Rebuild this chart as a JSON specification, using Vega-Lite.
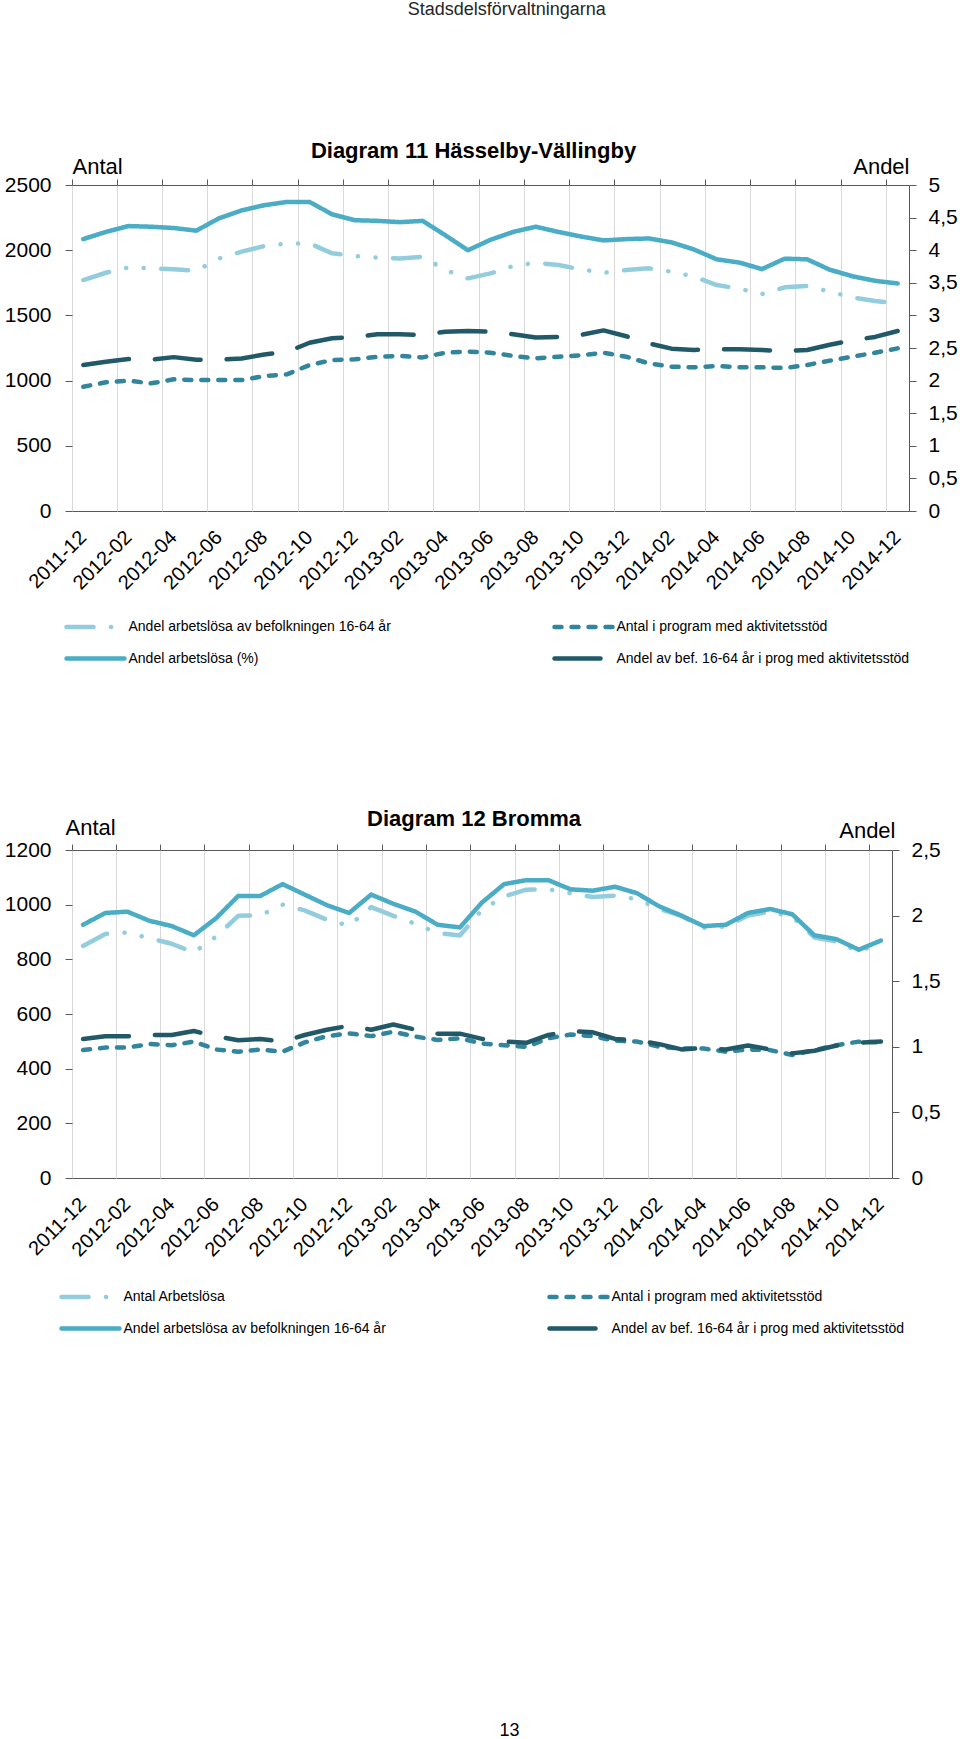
{
  "$schema": "https://vega.github.io/schema/vega-lite/v6.json",
  "padding": {"left": 3, "top": 0, "right": 0, "bottom": 0},
  "title": {
    "text": "Stadsdelsförvaltningarna",
    "fontSize": 18,
    "fontWeight": "normal",
    "color": "#262626",
    "anchor": "middle",
    "dx": 26,
    "offset": 121
  },
  "config": {
    "font": "Liberation Sans",
    "view": {"stroke": "#595959", "strokeWidth": 1},
    "axis": {
      "labelFontSize": 21,
      "labelColor": "#000000",
      "tickColor": "#595959",
      "domainColor": "#595959",
      "titleFontSize": 22,
      "titleFontWeight": "normal",
      "titleColor": "#000000"
    },
    "legend": {
      "orient": "none",
      "direction": "horizontal",
      "columns": 2,
      "columnPadding": 154,
      "rowPadding": 5.5,
      "symbolType": "M-2,0H2",
      "symbolSize": 841,
      "symbolOffset": 14.5,
      "labelFontSize": 14,
      "labelOffset": 16,
      "labelColor": "#000000",
      "labelLimit": 500,
      "title": null
    },
    "title": {"fontSize": 22, "fontWeight": "bold", "color": "#000000", "anchor": "middle"}
  },
  "vconcat": [
    {
      "width": 837,
      "height": 326,
      "title": {"text": "Diagram 11 Hässelby-Vällingby", "dx": -17, "offset": -8},
      "data": {
        "values": [
          {"m": "2011-12", "a": 1771, "b": 953, "c": 4.17, "d": 2.24},
          {"m": "2012-01", "a": 1827, "b": 987, "c": 4.28, "d": 2.29},
          {"m": "2012-02", "a": 1868, "b": 999, "c": 4.37, "d": 2.33},
          {"m": "2012-03", "a": 1861, "b": 979, "c": 4.36, "d": 2.32},
          {"m": "2012-04", "a": 1853, "b": 1010, "c": 4.34, "d": 2.36},
          {"m": "2012-05", "a": 1843, "b": 1004, "c": 4.30, "d": 2.32},
          {"m": "2012-06", "a": 1937, "b": 1004, "c": 4.49, "d": 2.32},
          {"m": "2012-07", "a": 1989, "b": 1004, "c": 4.61, "d": 2.34},
          {"m": "2012-08", "a": 2032, "b": 1035, "c": 4.69, "d": 2.40},
          {"m": "2012-09", "a": 2052, "b": 1048, "c": 4.74, "d": 2.44},
          {"m": "2012-10", "a": 2052, "b": 1119, "c": 4.74, "d": 2.58},
          {"m": "2012-11", "a": 1976, "b": 1158, "c": 4.55, "d": 2.65},
          {"m": "2012-12", "a": 1955, "b": 1163, "c": 4.46, "d": 2.67},
          {"m": "2013-01", "a": 1943, "b": 1183, "c": 4.45, "d": 2.71},
          {"m": "2013-02", "a": 1937, "b": 1189, "c": 4.43, "d": 2.71},
          {"m": "2013-03", "a": 1950, "b": 1178, "c": 4.45, "d": 2.70},
          {"m": "2013-04", "a": 1848, "b": 1214, "c": 4.23, "d": 2.75},
          {"m": "2013-05", "a": 1784, "b": 1222, "c": 4.00, "d": 2.76},
          {"m": "2013-06", "a": 1822, "b": 1214, "c": 4.16, "d": 2.75},
          {"m": "2013-07", "a": 1879, "b": 1189, "c": 4.28, "d": 2.71},
          {"m": "2013-08", "a": 1904, "b": 1171, "c": 4.36, "d": 2.66},
          {"m": "2013-09", "a": 1886, "b": 1183, "c": 4.28, "d": 2.67},
          {"m": "2013-10", "a": 1853, "b": 1194, "c": 4.21, "d": 2.70},
          {"m": "2013-11", "a": 1827, "b": 1214, "c": 4.15, "d": 2.77},
          {"m": "2013-12", "a": 1848, "b": 1183, "c": 4.17, "d": 2.68},
          {"m": "2014-01", "a": 1861, "b": 1132, "c": 4.18, "d": 2.57},
          {"m": "2014-02", "a": 1835, "b": 1107, "c": 4.12, "d": 2.49},
          {"m": "2014-03", "a": 1797, "b": 1102, "c": 4.01, "d": 2.47},
          {"m": "2014-04", "a": 1733, "b": 1112, "c": 3.86, "d": 2.48},
          {"m": "2014-05", "a": 1705, "b": 1102, "c": 3.81, "d": 2.48},
          {"m": "2014-06", "a": 1664, "b": 1102, "c": 3.71, "d": 2.47},
          {"m": "2014-07", "a": 1715, "b": 1097, "c": 3.87, "d": 2.45},
          {"m": "2014-08", "a": 1725, "b": 1120, "c": 3.86, "d": 2.47},
          {"m": "2014-09", "a": 1682, "b": 1153, "c": 3.70, "d": 2.55},
          {"m": "2014-10", "a": 1638, "b": 1183, "c": 3.60, "d": 2.62},
          {"m": "2014-11", "a": 1610, "b": 1214, "c": 3.53, "d": 2.67},
          {"m": "2014-12", "a": 1593, "b": 1247, "c": 3.49, "d": 2.76}
        ]
      },
      "layer": [
        {
          "transform": [{"fold": ["a", "b"], "as": ["k", "v"]}],
          "mark": {"type": "line", "strokeCap": "round", "strokeJoin": "round"},
          "encoding": {
            "x": {
              "field": "m",
              "type": "ordinal",
              "scale": {"type": "band", "paddingInner": 0, "paddingOuter": 0},
              "axis": {
                "values": ["2011-12", "2012-02", "2012-04", "2012-06", "2012-08", "2012-10", "2012-12", "2013-02", "2013-04", "2013-06", "2013-08", "2013-10", "2013-12", "2014-02", "2014-04", "2014-06", "2014-08", "2014-10", "2014-12"],
                "bandPosition": 0.5,
                "labelAngle": -45,
                "labelAlign": "right",
                "labelBaseline": "middle",
                "labelFontSize": 20,
                "labelPadding": 23,
                "labelDx": -5,
                "labelOverlap": false,
                "labelBound": false,
                "ticks": false,
                "grid": false,
                "domain": false,
                "title": null
              }
            },
            "y": {
              "field": "v",
              "type": "quantitative",
              "scale": {"domain": [0, 2500]},
              "axis": {
                "values": [0, 500, 1000, 1500, 2000, 2500],
                "format": "d",
                "grid": false,
                "domain": false,
                "tickSize": 7,
                "labelPadding": 14,
                "title": "Antal",
                "titleAngle": 0,
                "titleAlign": "left",
                "titleBaseline": "middle",
                "titleX": 0,
                "titleY": -19
              }
            },
            "color": {
              "field": "k",
              "type": "nominal",
              "scale": {"domain": ["a", "b", "c", "d"], "range": ["#93cddd", "#31859c", "#4bacc6", "#215968"]},
              "legend": {
                "legendX": -8,
                "legendY": 425,
                "encode": {"symbols": {"update": {"strokeCap": {"value": "round"}, "strokeDash": {"signal": "datum.value == 'a' ? [27, 17.5, 0.1, 17.5] : datum.value == 'b' ? [7, 10] : datum.value == 'c' ? [1, 0] : [27, 20]"}}}},
                "labelExpr": "datum.label == 'a' ? 'Andel arbetslösa av befolkningen 16-64 år' : datum.label == 'b' ? 'Antal i program med aktivitetsstöd' : datum.label == 'c' ? 'Andel arbetslösa (%)' : 'Andel av bef. 16-64 år i prog med aktivitetsstöd'"
              }
            },
            "strokeDash": {
              "field": "k",
              "type": "nominal",
              "scale": {"domain": ["a", "b", "c", "d"], "range": [[27, 17.5, 0.1, 17.5, 0.1, 17.5], [7, 10], [1, 0], [46, 26]]}
            },
            "strokeWidth": {
              "field": "k",
              "type": "nominal",
              "scale": {"domain": ["a", "b", "c", "d"], "range": [4.5, 4.5, 6, 6]}
            }
          }
        },
        {
          "transform": [{"fold": ["c", "d"], "as": ["k", "v"]}],
          "mark": {"type": "line", "strokeCap": "round", "strokeJoin": "round"},
          "encoding": {
            "x": {
              "field": "m",
              "type": "ordinal",
              "axis": {
                "values": ["2011-12", "2012-02", "2012-04", "2012-06", "2012-08", "2012-10", "2012-12", "2013-02", "2013-04", "2013-06", "2013-08", "2013-10", "2013-12", "2014-02", "2014-04", "2014-06", "2014-08", "2014-10", "2014-12"],
                "bandPosition": 0,
                "labels": false,
                "ticks": true,
                "tickSize": 6,
                "grid": true,
                "gridColor": "#d9d9d9",
                "domain": false,
                "title": null
              }
            },
            "y": {
              "field": "v",
              "type": "quantitative",
              "scale": {"domain": [0, 5]},
              "axis": {
                "orient": "right",
                "values": [0, 0.5, 1, 1.5, 2, 2.5, 3, 3.5, 4, 4.5, 5],
                "labelExpr": "replace(datum.value + '', '.', ',')",
                "grid": false,
                "domain": false,
                "tickSize": 7,
                "labelPadding": 12,
                "title": "Andel",
                "titleAngle": 0,
                "titleAlign": "right",
                "titleBaseline": "middle",
                "titleX": 0,
                "titleY": -19
              }
            },
            "color": {"field": "k", "type": "nominal"},
            "strokeDash": {"field": "k", "type": "nominal"},
            "strokeWidth": {"field": "k", "type": "nominal"}
          }
        }
      ],
      "resolve": {"scale": {"y": "independent"}, "axis": {"x": "independent"}}
    },
    {
      "width": 820,
      "height": 328,
      "title": {"text": "Diagram 12 Bromma", "dx": -8, "offset": -15},
      "data": {
        "values": [
          {"m": "2011-12", "a": 849, "b": 468, "c": 1.93, "d": 1.06},
          {"m": "2012-01", "a": 893, "b": 477, "c": 2.02, "d": 1.08},
          {"m": "2012-02", "a": 898, "b": 477, "c": 2.03, "d": 1.08},
          {"m": "2012-03", "a": 877, "b": 490, "c": 1.96, "d": 1.09},
          {"m": "2012-04", "a": 857, "b": 486, "c": 1.92, "d": 1.09},
          {"m": "2012-05", "a": 825, "b": 499, "c": 1.85, "d": 1.12},
          {"m": "2012-06", "a": 883, "b": 470, "c": 1.98, "d": 1.08},
          {"m": "2012-07", "a": 959, "b": 462, "c": 2.15, "d": 1.05},
          {"m": "2012-08", "a": 961, "b": 470, "c": 2.15, "d": 1.06},
          {"m": "2012-09", "a": 1000, "b": 462, "c": 2.24, "d": 1.04},
          {"m": "2012-10", "a": 979, "b": 496, "c": 2.16, "d": 1.09},
          {"m": "2012-11", "a": 945, "b": 519, "c": 2.08, "d": 1.13},
          {"m": "2012-12", "a": 923, "b": 529, "c": 2.02, "d": 1.16},
          {"m": "2013-01", "a": 991, "b": 519, "c": 2.16, "d": 1.13},
          {"m": "2013-02", "a": 959, "b": 535, "c": 2.09, "d": 1.17},
          {"m": "2013-03", "a": 930, "b": 517, "c": 2.03, "d": 1.13},
          {"m": "2013-04", "a": 896, "b": 505, "c": 1.93, "d": 1.10},
          {"m": "2013-05", "a": 887, "b": 511, "c": 1.91, "d": 1.10},
          {"m": "2013-06", "a": 981, "b": 492, "c": 2.10, "d": 1.06},
          {"m": "2013-07", "a": 1030, "b": 486, "c": 2.24, "d": 1.04},
          {"m": "2013-08", "a": 1055, "b": 480, "c": 2.27, "d": 1.03},
          {"m": "2013-09", "a": 1056, "b": 511, "c": 2.27, "d": 1.09},
          {"m": "2013-10", "a": 1042, "b": 525, "c": 2.20, "d": 1.12},
          {"m": "2013-11", "a": 1028, "b": 519, "c": 2.19, "d": 1.11},
          {"m": "2013-12", "a": 1033, "b": 502, "c": 2.22, "d": 1.06},
          {"m": "2014-01", "a": 1020, "b": 499, "c": 2.17, "d": 1.05},
          {"m": "2014-02", "a": 984, "b": 480, "c": 2.07, "d": 1.02},
          {"m": "2014-03", "a": 959, "b": 474, "c": 2.00, "d": 0.98},
          {"m": "2014-04", "a": 915, "b": 474, "c": 1.92, "d": 0.99},
          {"m": "2014-05", "a": 920, "b": 462, "c": 1.93, "d": 0.98},
          {"m": "2014-06", "a": 960, "b": 470, "c": 2.02, "d": 1.01},
          {"m": "2014-07", "a": 975, "b": 468, "c": 2.05, "d": 0.98},
          {"m": "2014-08", "a": 955, "b": 450, "c": 2.01, "d": 0.95},
          {"m": "2014-09", "a": 880, "b": 468, "c": 1.85, "d": 0.97},
          {"m": "2014-10", "a": 865, "b": 486, "c": 1.82, "d": 1.01},
          {"m": "2014-11", "a": 828, "b": 499, "c": 1.74, "d": 1.03},
          {"m": "2014-12", "a": 862, "b": 496, "c": 1.81, "d": 1.04}
        ]
      },
      "layer": [
        {
          "transform": [{"fold": ["a", "b"], "as": ["k", "v"]}],
          "mark": {"type": "line", "strokeCap": "round", "strokeJoin": "round"},
          "encoding": {
            "x": {
              "field": "m",
              "type": "ordinal",
              "scale": {"type": "band", "paddingInner": 0, "paddingOuter": 0},
              "axis": {
                "values": ["2011-12", "2012-02", "2012-04", "2012-06", "2012-08", "2012-10", "2012-12", "2013-02", "2013-04", "2013-06", "2013-08", "2013-10", "2013-12", "2014-02", "2014-04", "2014-06", "2014-08", "2014-10", "2014-12"],
                "bandPosition": 0.5,
                "labelAngle": -45,
                "labelAlign": "right",
                "labelBaseline": "middle",
                "labelFontSize": 20,
                "labelPadding": 23,
                "labelDx": -5,
                "labelOverlap": false,
                "labelBound": false,
                "ticks": false,
                "grid": false,
                "domain": false,
                "title": "13",
                "titleFontSize": 18,
                "titleX": 437,
                "titleY": 552,
                "titleBaseline": "middle"
              }
            },
            "y": {
              "field": "v",
              "type": "quantitative",
              "scale": {"domain": [0, 1200]},
              "axis": {
                "values": [0, 200, 400, 600, 800, 1000, 1200],
                "format": "d",
                "grid": false,
                "domain": false,
                "tickSize": 7,
                "labelPadding": 14,
                "title": "Antal",
                "titleAngle": 0,
                "titleAlign": "left",
                "titleBaseline": "middle",
                "titleX": -7,
                "titleY": -23
              }
            },
            "color": {
              "field": "k",
              "type": "nominal",
              "scale": {"domain": ["a", "b", "c", "d"], "range": ["#93cddd", "#31859c", "#4bacc6", "#215968"]},
              "legend": {
                "legendX": -13,
                "legendY": 430,
                "encode": {"symbols": {"update": {"strokeCap": {"value": "round"}, "strokeDash": {"signal": "datum.value == 'a' ? [27, 17.5, 0.1, 17.5] : datum.value == 'b' ? [7, 10] : datum.value == 'c' ? [1, 0] : [27, 20]"}}}},
                "labelExpr": "datum.label == 'a' ? 'Antal Arbetslösa' : datum.label == 'b' ? 'Antal i program med aktivitetsstöd' : datum.label == 'c' ? 'Andel arbetslösa av befolkningen 16-64 år' : 'Andel av bef. 16-64 år i prog med aktivitetsstöd'"
              }
            },
            "strokeDash": {
              "field": "k",
              "type": "nominal",
              "scale": {"domain": ["a", "b", "c", "d"], "range": [[27, 17.5, 0.1, 17.5, 0.1, 17.5], [7, 10], [1, 0], [46, 26]]}
            },
            "strokeWidth": {
              "field": "k",
              "type": "nominal",
              "scale": {"domain": ["a", "b", "c", "d"], "range": [4.5, 4.5, 6, 6]}
            }
          }
        },
        {
          "transform": [{"fold": ["c", "d"], "as": ["k", "v"]}],
          "mark": {"type": "line", "strokeCap": "round", "strokeJoin": "round"},
          "encoding": {
            "x": {
              "field": "m",
              "type": "ordinal",
              "axis": {
                "values": ["2011-12", "2012-02", "2012-04", "2012-06", "2012-08", "2012-10", "2012-12", "2013-02", "2013-04", "2013-06", "2013-08", "2013-10", "2013-12", "2014-02", "2014-04", "2014-06", "2014-08", "2014-10", "2014-12"],
                "bandPosition": 0,
                "labels": false,
                "ticks": true,
                "tickSize": 6,
                "grid": true,
                "gridColor": "#d9d9d9",
                "domain": false,
                "title": null
              }
            },
            "y": {
              "field": "v",
              "type": "quantitative",
              "scale": {"domain": [0, 2.5]},
              "axis": {
                "orient": "right",
                "values": [0, 0.5, 1, 1.5, 2, 2.5],
                "labelExpr": "replace(datum.value + '', '.', ',')",
                "grid": false,
                "domain": false,
                "tickSize": 7,
                "labelPadding": 12,
                "title": "Andel",
                "titleAngle": 0,
                "titleAlign": "right",
                "titleBaseline": "middle",
                "titleX": 3,
                "titleY": -20
              }
            },
            "color": {"field": "k", "type": "nominal"},
            "strokeDash": {"field": "k", "type": "nominal"},
            "strokeWidth": {"field": "k", "type": "nominal"}
          }
        }
      ],
      "resolve": {"scale": {"y": "independent"}, "axis": {"x": "independent"}}
    }
  ],
  "spacing": 138,
  "resolve": {"scale": {"color": "independent", "strokeDash": "independent", "strokeWidth": "independent"}}
}
